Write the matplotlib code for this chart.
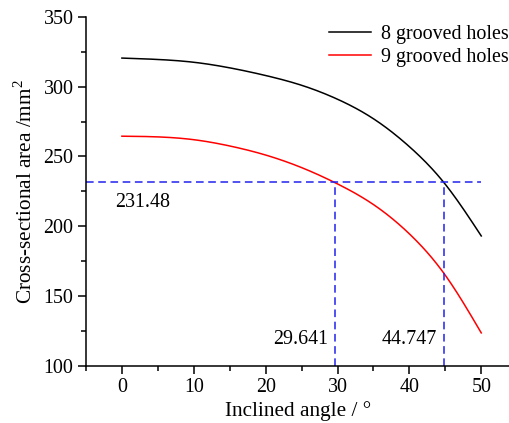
import matplotlib
matplotlib.use("Agg")
import matplotlib.pyplot as plt
import numpy as np
from matplotlib.ticker import MultipleLocator

plt.rcParams['font.family'] = ['Liberation Serif', 'DejaVu Serif']
plt.rcParams['mathtext.fontset'] = 'custom'
plt.rcParams['mathtext.rm'] = 'Liberation Serif'

angle = [0, 5, 10, 15, 20, 25, 30, 35, 40, 45, 50]
area_8 = [320.5, 319.5, 317.5, 313.5, 308.0, 301.0, 291.0, 277.0, 257.0, 230.0, 193.0]
area_9 = [264.5, 264.0, 262.0, 257.5, 251.0, 242.0, 230.3, 215.5, 194.5, 164.8, 123.5]
label_8 = "8 grooved holes"
label_9 = "9 grooved holes"
ref_area = 231.48
ref_angle_9 = 29.641
ref_angle_8 = 44.747

# smooth curves through points (natural cubic spline)
def smooth(x, y, n=300):
    x = np.asarray(x, float); y = np.asarray(y, float)
    xs = np.linspace(x[0], x[-1], n)
    h = np.diff(x)
    nn = len(x)
    A = np.zeros((nn, nn)); b = np.zeros(nn)
    A[0, 0] = 1; A[-1, -1] = 1
    for i in range(1, nn - 1):
        A[i, i - 1] = h[i - 1]; A[i, i] = 2 * (h[i - 1] + h[i]); A[i, i + 1] = h[i]
        b[i] = 3 * ((y[i + 1] - y[i]) / h[i] - (y[i] - y[i - 1]) / h[i - 1])
    c = np.linalg.solve(A, b)
    ys = np.empty_like(xs)
    for k, xv in enumerate(xs):
        i = min(np.searchsorted(x, xv, side='right') - 1, nn - 2)
        dx = xv - x[i]
        bi = (y[i + 1] - y[i]) / h[i] - h[i] * (2 * c[i] + c[i + 1]) / 3
        di = (c[i + 1] - c[i]) / (3 * h[i])
        ys[k] = y[i] + bi * dx + c[i] * dx ** 2 + di * dx ** 3
    return xs, ys

fig = plt.figure(figsize=(5.10, 4.23), dpi=100)
ax = fig.add_axes([0.1686, 0.1355, 1.0 - 0.1686, 0.96 - 0.1355])

x8, y8 = smooth(angle, area_8)
x9, y9 = smooth(angle, area_9)
ax.plot(x8, y8, color='black', lw=1.1, label=label_8)
ax.plot(x9, y9, color='red', lw=1.1, label=label_9)

dash = dict(color='#2222ee', lw=1.1, linestyle=(0, (5, 3)))
ax.plot([-5, 50], [ref_area, ref_area], **dash)
ax.plot([ref_angle_9, ref_angle_9], [100, ref_area], **dash)
ax.plot([ref_angle_8, ref_angle_8], [100, ref_area], **dash)

fs = 14.4
ax.text(-1.0, 216.7, f"{ref_area:.2f}", fontsize=fs, ha='left', va='center')
ax.text(28.7, 118.5, f"{ref_angle_9:.3f}", fontsize=fs, ha='right', va='center')
ax.text(43.8, 119.0, f"{ref_angle_8:.3f}", fontsize=fs, ha='right', va='center')

ax.set_xlim(-5, 54)
ax.set_ylim(100, 350)
ax.xaxis.set_major_locator(MultipleLocator(10))
ax.xaxis.set_minor_locator(MultipleLocator(5))
ax.yaxis.set_major_locator(MultipleLocator(50))
ax.yaxis.set_minor_locator(MultipleLocator(25))
ax.spines['top'].set_visible(False)
ax.spines['right'].set_visible(False)
for s in ('left', 'bottom'):
    ax.spines[s].set_linewidth(1.1)
ax.tick_params(which='major', direction='out', length=6, width=1.1, labelsize=fs, pad=3)
ax.tick_params(which='minor', direction='out', length=3.5, width=1.1)

ax.set_xlabel("Inclined angle / °", fontsize=15.3, labelpad=3)
ax.set_ylabel("Cross-sectional area /mm$^2$", fontsize=15.3, labelpad=5)

ax.legend(loc='upper right', bbox_to_anchor=(0.998, 0.94), bbox_transform=fig.transFigure,
          frameon=False, fontsize=fs, handlelength=2.1, handletextpad=0.5,
          labelspacing=0.2, borderpad=0, borderaxespad=0)

fig.savefig("out.png", dpi=100)
